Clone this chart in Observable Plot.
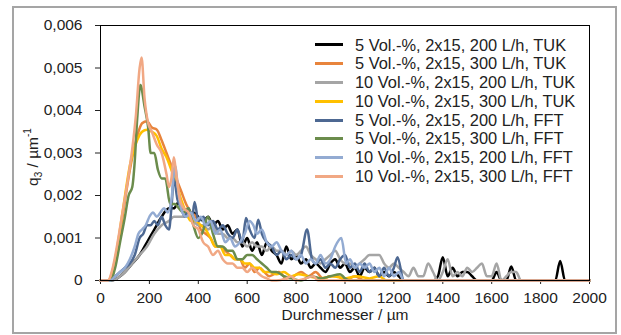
<!DOCTYPE html>
<html>
<head>
<meta charset="utf-8">
<script src="https://cdn.jsdelivr.net/npm/d3@7"></script>
<script src="https://cdn.jsdelivr.net/npm/@observablehq/plot@0.6"></script>
<style>
  body { margin: 0; background: #fff; }
  #wrap { position: relative; width: 621px; height: 335px; background: #fff; font-family: "Liberation Sans", Arial, sans-serif; color: #222; overflow: hidden; }
  #border { position: absolute; left: 12px; top: 6px; width: 605px; height: 328px; border: 2px solid #a5a5a5; box-sizing: border-box; }
  #chart { position: absolute; left: 0; top: 0; }
  #ylab { position: absolute; left: 33px; top: 157px; transform: translate(-50%, -50%) rotate(-90deg); font-size: 15.5px; white-space: nowrap; }
  #ylab sub, #ylab sup { font-size: 10px; }
  #legend { position: absolute; left: 315px; top: 35.6px; font-size: 16.4px; }
  .row { height: 18.8px; display: flex; align-items: center; white-space: nowrap; }
  .sw { width: 28px; height: 3px; margin-right: 12px; }
</style>
</head>
<body>
<div id="wrap">
  <div id="border"></div>
  <div id="chart"></div>
  <div id="ylab">q<sub>3</sub> / µm<sup>-1</sup></div>
  <div id="legend"></div>
</div>
<script>
const seriesLabels = [
  "5 Vol.-%, 2x15, 200 L/h, TUK",
  "5 Vol.-%, 2x15, 300 L/h, TUK",
  "10 Vol.-%, 2x15, 200 L/h, TUK",
  "10 Vol.-%, 2x15, 300 L/h, TUK",
  "5 Vol.-%, 2x15, 200 L/h, FFT",
  "5 Vol.-%, 2x15, 300 L/h, FFT",
  "10 Vol.-%, 2x15, 200 L/h, FFT",
  "10 Vol.-%, 2x15, 300 L/h, FFT"
];
const seriesColors = ["#000000", "#e8843c", "#a5a5a5", "#ffc000", "#4d6892", "#6b8c4c", "#93abd2", "#f1a884"];
const xTicks = [0, 200, 400, 600, 800, 1000, 1200, 1400, 1600, 1800, 2000];
const yTicks = [0, 0.001, 0.002, 0.003, 0.004, 0.005, 0.006];

// [Durchmesser µm, q3 µm^-1]
const tuk5_200 = [[0,0],[40,0],[60,0.00002],[80,0.0001],[100,0.0002],[130,0.0004],[160,0.0006],[190,0.0009],[220,0.0012],[250,0.0015],[280,0.0017],[300,0.0017],[320,0.00185],[340,0.0017],[360,0.0016],[380,0.0016],[400,0.0015],[420,0.0014],[440,0.0015],[460,0.0013],[480,0.0014],[500,0.0012],[520,0.0013],[540,0.0011],[560,0.0012],[580,0.0008],[600,0.001],[620,0.0007],[640,0.0009],[660,0.0006],[680,0.0009],[700,0.0007],[720,0.0006],[740,0.0004],[760,0.0008],[780,0.0005],[800,0.0006],[820,0.0004],[840,0.0005],[860,0.0003],[880,0.0004],[900,0.0003],[920,0.0002],[940,0.0004],[960,0.0005],[980,0.0003],[1000,0.0004],[1020,0.0002],[1040,0.0003],[1060,0.0001],[1080,0.0003],[1100,0.0002],[1120,0.0003],[1140,0.0001],[1160,0.0002],[1180,0.0001],[1200,0.0002],[1220,0.0001],[1240,0],[1260,0],[1300,0],[1360,0],[1380,0.0001],[1400,0.00055],[1420,0.0001],[1440,0.0003],[1460,0.0001],[1480,0.0002],[1500,0.0002],[1520,0.0001],[1540,0],[1600,0],[1620,0.0002],[1640,0],[1660,0],[1680,0.00033],[1700,0],[1860,0],[1880,0.00046],[1900,0],[2000,0]];
const tuk5_300 = [[0,0],[30,0],[60,0.0004],[90,0.0015],[120,0.0026],[150,0.0034],[170,0.0037],[190,0.00375],[210,0.0036],[230,0.00355],[250,0.0033],[270,0.003],[290,0.0027],[310,0.0024],[330,0.0021],[350,0.0018],[370,0.0016],[390,0.0015],[410,0.0012],[430,0.0011],[450,0.001],[470,0.0008],[490,0.0008],[510,0.0007],[530,0.0006],[550,0.0005],[570,0.0005],[590,0.0003],[610,0.0004],[630,0.0002],[650,0.0003],[670,0.0002],[690,0.0001],[710,0.00015],[730,0.0002],[760,0.00005],[790,0.0001],[820,0.0002],[850,0.0001],[880,0.0002],[910,0.00005],[940,0.0001],[970,0.0001],[1000,0],[1040,0.0001],[1080,0],[2000,0]];
const tuk10_200 = [[0,0],[40,0],[60,0.00002],[80,0.0001],[100,0.0002],[130,0.0004],[160,0.0006],[190,0.0008],[220,0.0011],[250,0.0013],[280,0.0014],[300,0.0015],[320,0.0015],[340,0.0015],[360,0.0015],[380,0.0014],[400,0.0013],[420,0.0013],[440,0.0012],[460,0.0013],[480,0.0011],[500,0.0011],[520,0.001],[540,0.001],[560,0.0009],[580,0.0009],[600,0.0008],[620,0.0009],[640,0.0008],[660,0.0008],[680,0.0007],[700,0.0008],[720,0.0007],[740,0.0007],[760,0.0006],[780,0.0007],[800,0.0006],[820,0.0007],[840,0.0008],[860,0.0006],[880,0.0005],[900,0.0004],[920,0.0005],[940,0.0006],[960,0.0007],[980,0.0005],[1000,0.0004],[1020,0.0004],[1040,0.0003],[1060,0.0004],[1080,0.0005],[1100,0.0006],[1120,0.0006],[1140,0.0006],[1160,0.0004],[1180,0.0003],[1200,0.0004],[1220,0.0003],[1240,0.0002],[1260,0.0001],[1280,0.0003],[1300,0.0001],[1320,0.0001],[1340,0.0004],[1360,0.0002],[1380,0],[1400,0.0002],[1420,0.0005],[1440,0.0001],[1460,0.0002],[1480,0.0001],[1500,0.0003],[1520,0.0002],[1540,0.0003],[1560,0.0004],[1580,0.0001],[1600,0.0001],[1620,0.0004],[1640,0],[1660,0.0001],[1680,0.0002],[1700,0.0002],[1720,0],[2000,0]];
const tuk10_300 = [[0,0],[30,0],[60,0.0005],[90,0.0016],[120,0.0027],[150,0.0033],[170,0.0035],[190,0.00355],[210,0.0035],[230,0.0034],[250,0.0031],[270,0.0029],[290,0.0026],[310,0.0023],[330,0.0019],[350,0.0016],[370,0.0014],[390,0.0014],[410,0.0013],[430,0.0012],[450,0.001],[470,0.0008],[490,0.0008],[510,0.0006],[530,0.0006],[550,0.0005],[570,0.0005],[590,0.0004],[610,0.0004],[630,0.0003],[650,0.0003],[670,0.0002],[690,0.0002],[720,0.00015],[750,0.0002],[780,0.0001],[810,0.00015],[850,0.0001],[900,0.00005],[950,0.0001],[1000,0.00005],[1050,0.0001],[1100,0.00005],[1140,0.0001],[1170,0],[2000,0]];
const fft5_200 = [[0,0],[40,0],[60,0.0001],[80,0.0002],[100,0.0003],[120,0.0004],[140,0.0006],[160,0.001],[175,0.0011],[190,0.0013],[205,0.0013],[220,0.0014],[235,0.0013],[250,0.0015],[265,0.0013],[280,0.0012],[290,0.0017],[300,0.0024],[315,0.0019],[330,0.0017],[345,0.0015],[360,0.0017],[375,0.0015],[385,0.00185],[400,0.0014],[420,0.0015],[440,0.0013],[460,0.0014],[480,0.0012],[500,0.0013],[520,0.0011],[540,0.001],[560,0.0012],[580,0.0009],[595,0.00147],[610,0.0012],[630,0.001],[645,0.00143],[660,0.0011],[680,0.0009],[700,0.0008],[720,0.0006],[740,0.0007],[760,0.0005],[780,0.0006],[800,0.0005],[820,0.0006],[845,0.0012],[865,0.0005],[880,0.0004],[900,0.0005],[920,0.0003],[940,0.0004],[960,0.0003],[980,0.0005],[1000,0.0006],[1020,0.0003],[1040,0.0004],[1060,0.0002],[1080,0.0004],[1100,0.0002],[1120,0.0003],[1140,0.0001],[1160,0.0003],[1180,0.0001],[1200,0.0003],[1215,0.00055],[1240,0],[2000,0]];
const fft5_300 = [[0,0],[40,0],[60,0.0003],[80,0.0009],[100,0.0015],[115,0.002],[130,0.0022],[140,0.0028],[150,0.0038],[163,0.0046],[180,0.0041],[195,0.0036],[205,0.003],[220,0.003],[235,0.0026],[250,0.0024],[265,0.0024],[285,0.0018],[305,0.0018],[320,0.0017],[340,0.0016],[360,0.0017],[380,0.0013],[400,0.001],[415,0.0011],[440,0.0015],[460,0.0011],[480,0.0008],[500,0.0008],[520,0.0007],[540,0.0007],[560,0.0005],[580,0.0005],[600,0.0006],[620,0.0006],[640,0.0005],[660,0.0004],[680,0.0003],[700,0.0002],[720,0.0002],[750,0.0001],[780,0.00005],[820,0],[860,0.0001],[900,0.00005],[940,0.0001],[980,0.00015],[1000,0.00005],[1020,0],[2000,0]];
const fft10_200 = [[0,0],[40,0],[60,0.0001],[80,0.0002],[100,0.0003],[120,0.0005],[140,0.0008],[155,0.0011],[170,0.0012],[185,0.0013],[200,0.0015],[215,0.0016],[230,0.0015],[245,0.0016],[260,0.0017],[275,0.0016],[290,0.0019],[305,0.0027],[320,0.002],[335,0.0016],[350,0.0015],[370,0.0016],[390,0.0014],[410,0.0015],[430,0.0013],[450,0.0014],[470,0.0011],[490,0.0012],[510,0.0009],[530,0.001],[550,0.0008],[570,0.0009],[590,0.0011],[610,0.0014],[625,0.0013],[640,0.0011],[660,0.0012],[680,0.0009],[700,0.0008],[720,0.0009],[740,0.0007],[760,0.0006],[780,0.0007],[800,0.0005],[820,0.0006],[840,0.0004],[860,0.0005],[880,0.0004],[900,0.0006],[920,0.0004],[940,0.0005],[960,0.0008],[985,0.001],[1005,0.0004],[1020,0.0005],[1040,0.0003],[1060,0.0004],[1080,0.0003],[1100,0.0004],[1120,0.0002],[1140,0.0003],[1160,0.0001],[1180,0.0003],[1200,0.0001],[1220,0.0002],[1240,0],[2000,0]];
const fft10_300 = [[0,0],[30,0],[50,0.0003],[70,0.0009],[90,0.0016],[110,0.0023],[130,0.0031],[145,0.0039],[160,0.005],[168,0.00525],[180,0.0043],[195,0.0037],[210,0.0035],[230,0.0032],[250,0.003],[270,0.0025],[280,0.0022],[290,0.0024],[300,0.0029],[310,0.0025],[325,0.0019],[340,0.0017],[360,0.0016],[380,0.0013],[400,0.0012],[420,0.0009],[440,0.0008],[460,0.0006],[480,0.0007],[500,0.0005],[520,0.0004],[540,0.0004],[560,0.0003],[580,0.0003],[600,0.0002],[620,0.0003],[640,0.0002],[660,0.0001],[680,0.00005],[700,0],[720,0],[760,0.00005],[780,0.0001],[800,0],[840,0.00005],[870,0.0001],[890,0],[920,0],[2000,0]];

const seriesData = [tuk5_200, tuk5_300, tuk10_200, tuk10_300, fft5_200, fft5_300, fft10_200, fft10_300];

const fmtY = d => d === 0 ? "0" : d.toFixed(3).replace(".", ",");
const fmtX = d => String(d);

const lineMarks = seriesData.map((s, i) => Plot.line(s, {
  x: d => d[0], y: d => d[1],
  stroke: seriesColors[i], strokeWidth: 2.5, curve: "monotone-x"
}));

const chart = Plot.plot({
  width: 621, height: 335,
  marginLeft: 100, marginRight: 32, marginTop: 25, marginBottom: 55,
  style: { fontFamily: "'Liberation Sans', Arial, sans-serif", fontSize: "15.5px", color: "#222", background: "transparent", overflow: "visible" },
  x: { domain: [0, 2000] },
  y: { domain: [0, 0.006] },
  marks: [
    Plot.axisY({ ticks: yTicks, tickSize: 5, tickPadding: 13, tickFormat: fmtY, label: null }),
    Plot.axisX({ ticks: xTicks, tickSize: 4, tickPadding: 7, tickFormat: fmtX, label: "Durchmesser / µm", labelAnchor: "center", labelOffset: 39, labelArrow: "none" }),
    ...lineMarks,
    Plot.frame({ stroke: "#000", strokeWidth: 1 })
  ]
});
document.getElementById("chart").appendChild(chart);

const legend = document.getElementById("legend");
seriesLabels.forEach((lab, i) => {
  const row = document.createElement("div");
  row.className = "row";
  const sw = document.createElement("div");
  sw.className = "sw";
  sw.style.background = seriesColors[i];
  const t = document.createElement("span");
  t.textContent = lab;
  row.appendChild(sw); row.appendChild(t);
  legend.appendChild(row);
});
</script>
</body>
</html>
